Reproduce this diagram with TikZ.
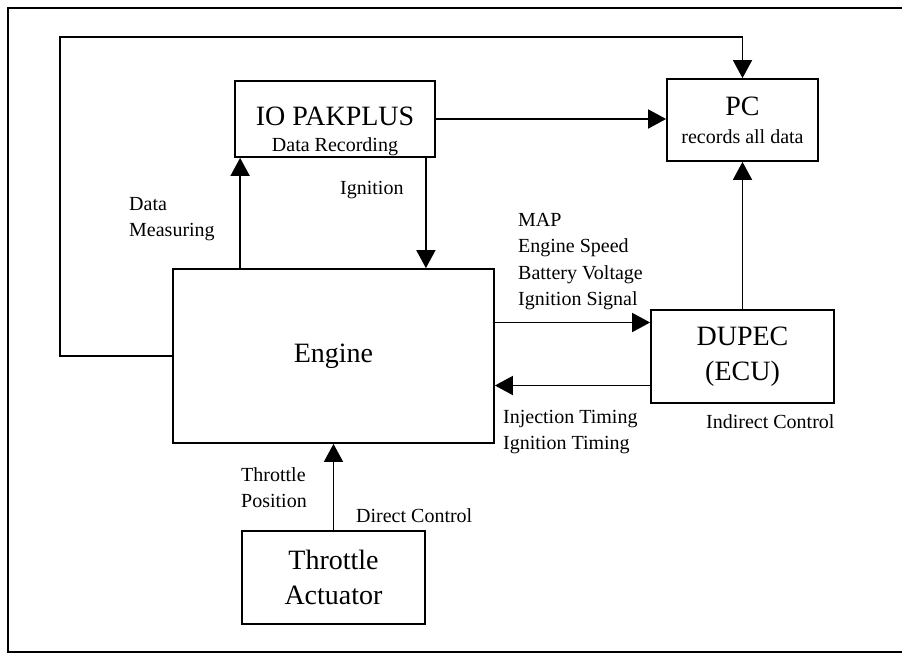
\documentclass[tikz,border=0pt]{standalone}
\usepackage{fontspec}
\setmainfont{Liberation Serif}
\usetikzlibrary{arrows.meta,positioning}
\tikzset{
  blk/.style={draw, line width=1.8pt, align=center, inner sep=0pt, font=\fontsize{28}{35}\selectfont},
  blktxt/.style={align=center, inner sep=0pt, font=\fontsize{28}{35}\selectfont},
  lbl/.style={align=left, inner sep=0pt, anchor=north west, font=\fontsize{20}{26.3}\selectfont},
  arr/.style={-{Triangle[length=18pt,width=19pt]}, line width=1.8pt},
  frame/.style={line width=2pt}
}
\newcommand{\subtxt}[1]{{\fontsize{20}{24}\selectfont #1}}

\begin{document}
\begin{tikzpicture}[x=1pt, y=-1pt]
  \useasboundingbox (0,0) rectangle (902,653);
  \draw[frame] (902,8) -- (8,8) -- (8,652) -- (902,652);
  % blocks
  \node[blk, minimum width=321pt, minimum height=174pt] (eng) at (333.5,356) {Engine};
  \node[blk, minimum width=200pt, minimum height=76pt] (io) at (335,119) {};
  \node[blktxt] (iotxt) at ([yshift=-12pt]io.center) {IO PAKPLUS\\[-9pt]\subtxt{Data Recording}};
  \node[blk, minimum width=151pt, minimum height=82pt] (pc) at (742.5,120) {PC\\[-7pt]\subtxt{records all data}};
  \node[blk, minimum width=183pt, minimum height=93pt] (dup) at (742.5,356.5) {DUPEC\\(ECU)};
  \node[blk, minimum width=183pt, minimum height=93pt] (thr) at (333.5,577.5) {Throttle\\Actuator};
  % helper points
  \coordinate (dm) at ([xshift=6pt]io.south west);
  \coordinate (ig) at ([xshift=-10pt]io.south east);
  \coordinate (es) at ([yshift=34pt]dup.west);
  \coordinate (ti) at ([yshift=-29pt]dup.west);
  \coordinate (loop) at (60,37);
  % connectors
  \draw[arr] (dm |- eng.north) -- (dm);
  \draw[arr] (ig) -- (ig |- eng.north);
  \draw[arr] (io.east) -- (io.east -| pc.west);
  \draw[arr] (eng.west) -| (loop) -| (pc.north);
  \draw[arr] (es -| eng.east) -- (es);
  \draw[arr] (ti) -- (ti -| eng.east);
  \draw[arr] (dup.north) -- (pc.south);
  \draw[arr] (thr.north) -- (thr.north |- eng.south);
  % labels
  \node[lbl] (ldm) at (129,197) {Data\\Measuring};
  \node[lbl] (lig) at (340,181) {Ignition};
  \node[lbl] (lsig) at (518,213) {MAP\\Engine Speed\\Battery Voltage\\Ignition Signal};
  \node[lbl] (ltim) at (503,410) {Injection Timing\\Ignition Timing};
  \node[lbl] (lind) at (706,414) {Indirect Control};
  \node[lbl] (ltp) at (241,467) {Throttle\\Position};
  \node[lbl] (ldir) at (356,508) {Direct Control};
\end{tikzpicture}
\end{document}
